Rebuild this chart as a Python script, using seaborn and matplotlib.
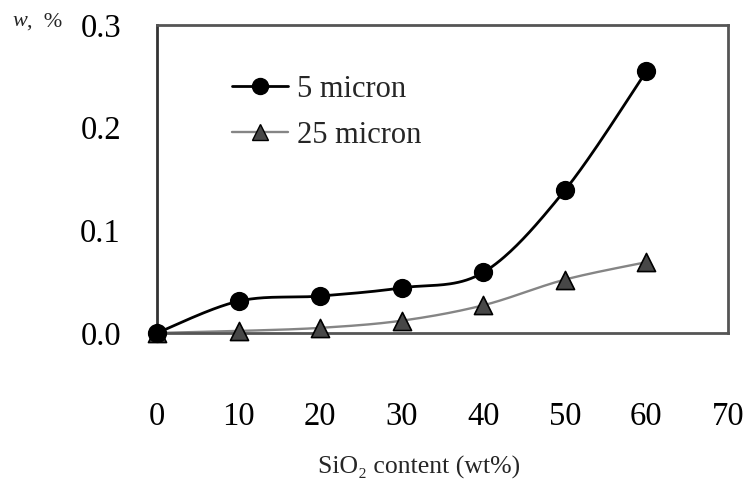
import numpy as np
import pandas as pd
import matplotlib
matplotlib.use("Agg")
import matplotlib.pyplot as plt
from matplotlib.lines import Line2D
import seaborn as sns

# SiO2 content (wt%) and mass loss w (%) for two particle sizes
sio2 = [0, 10, 20, 30, 40, 50, 60]
w_5um = [0.0, 0.031, 0.036, 0.044, 0.059, 0.139, 0.255]
w_25um = [0.0, 0.002, 0.005, 0.012, 0.027, 0.052, 0.069]
series_names = ["5 micron", "25 micron"]
x_ticks = [0, 10, 20, 30, 40, 50, 60, 70]
y_ticks = [0.0, 0.1, 0.2, 0.3]


def smooth_curve(x, y, n=40):
    """Catmull-Rom spline through the points (spreadsheet-style smoothed line)."""
    x = np.asarray(x, float)
    y = np.asarray(y, float)
    px = np.concatenate([[x[0]], x, [x[-1]]])
    py = np.concatenate([[y[0]], y, [y[-1]]])
    xs, ys = [], []
    t = np.linspace(0, 1, n)
    for i in range(1, len(px) - 2):
        p0, p1, p2, p3 = (np.array([px[j], py[j]]) for j in (i - 1, i, i + 1, i + 2))
        c1 = p1 + (p2 - p0) / 6.0
        c2 = p2 - (p3 - p1) / 6.0
        b = ((1 - t) ** 3)[:, None] * p1 + (3 * (1 - t) ** 2 * t)[:, None] * c1 \
            + (3 * (1 - t) * t ** 2)[:, None] * c2 + (t ** 3)[:, None] * p2
        xs.extend(b[:, 0])
        ys.extend(b[:, 1])
    return np.array(xs), np.array(ys)


sns.set_theme(style="white")
plt.rcParams["font.family"] = ["Liberation Serif", "DejaVu Serif"]

fig = plt.figure(figsize=(7.48, 4.82), dpi=100)
ax = fig.add_axes([157 / 748, 1 - 333 / 482, (728 - 157) / 748, (333 - 25) / 482])

line_colors = {"5 micron": "#000000", "25 micron": "#858585"}
marker_face = {"5 micron": "#000000", "25 micron": "#474747"}
markers = {"5 micron": "o", "25 micron": "^"}
values = {"5 micron": w_5um, "25 micron": w_25um}

curves = []
for name in series_names:
    cx, cy = smooth_curve(sio2, values[name])
    curves.append(pd.DataFrame({"x": cx, "y": cy, "series": name}))
curve_df = pd.concat(curves, ignore_index=True)

points_df = pd.concat(
    [pd.DataFrame({"x": sio2, "y": values[n], "series": n}) for n in series_names],
    ignore_index=True,
)

# draw the lighter series first so the black curve stays on top
for name, lw, size in [("25 micron", 1.7, 170), ("5 micron", 2.0, 160)]:
    sub = curve_df[curve_df["series"] == name]
    sns.lineplot(data=sub, x="x", y="y", sort=False, estimator=None,
                 color=line_colors[name], linewidth=lw, ax=ax, legend=False)
    pts = points_df[points_df["series"] == name]
    sns.scatterplot(data=pts, x="x", y="y", marker=markers[name], s=size,
                    color=marker_face[name], edgecolor="#000000", linewidth=1.2,
                    ax=ax, legend=False, zorder=5, clip_on=False)

ax.set_xlim(0, 70)
ax.set_ylim(0, 0.3)
ax.set_xticks(x_ticks)
ax.set_yticks(y_ticks)
ax.set_xticklabels([str(v) for v in x_ticks])
ax.set_yticklabels([f"{v:.1f}" for v in y_ticks])
ax.tick_params(axis="both", direction="in", length=7, width=1.2, color="#555555",
               labelsize=23.5, colors="#000000")
ax.tick_params(axis="x", pad=49)
ax.tick_params(axis="y", pad=26)
for side in ["left", "right", "top", "bottom"]:
    ax.spines[side].set_visible(True)
    ax.spines[side].set_color("#555555")
    ax.spines[side].set_linewidth(2.0)
ax.spines["left"].set_color("#333333")
ax.set_xlabel("")
ax.set_ylabel("")

fig.text(419 / 748, 1 - 467 / 482, "SiO\u2082 content (wt%)", fontsize=18.5,
         ha="center", va="center")
fig.text(12 / 748, 1 - 22 / 482, "w", fontsize=16, style="italic", ha="left", va="center")
fig.text(27 / 748, 1 - 22 / 482, ",  %", fontsize=16, ha="left", va="center")

handles = [
    Line2D([0], [0], color="#000000", lw=2.0, marker="o", markersize=11.5,
           markerfacecolor="#000000", markeredgecolor="#000000"),
    Line2D([0], [0], color="#858585", lw=1.7, marker="^", markersize=12,
           markerfacecolor="#474747", markeredgecolor="#000000"),
]
ax.legend(handles, series_names, loc="upper left", bbox_to_anchor=(0.104, 0.887),
          frameon=False, fontsize=22, handlelength=1.85, handletextpad=0.3,
          labelspacing=0.55, borderpad=0.0)

fig.savefig("out.png", dpi=100, facecolor="white")
